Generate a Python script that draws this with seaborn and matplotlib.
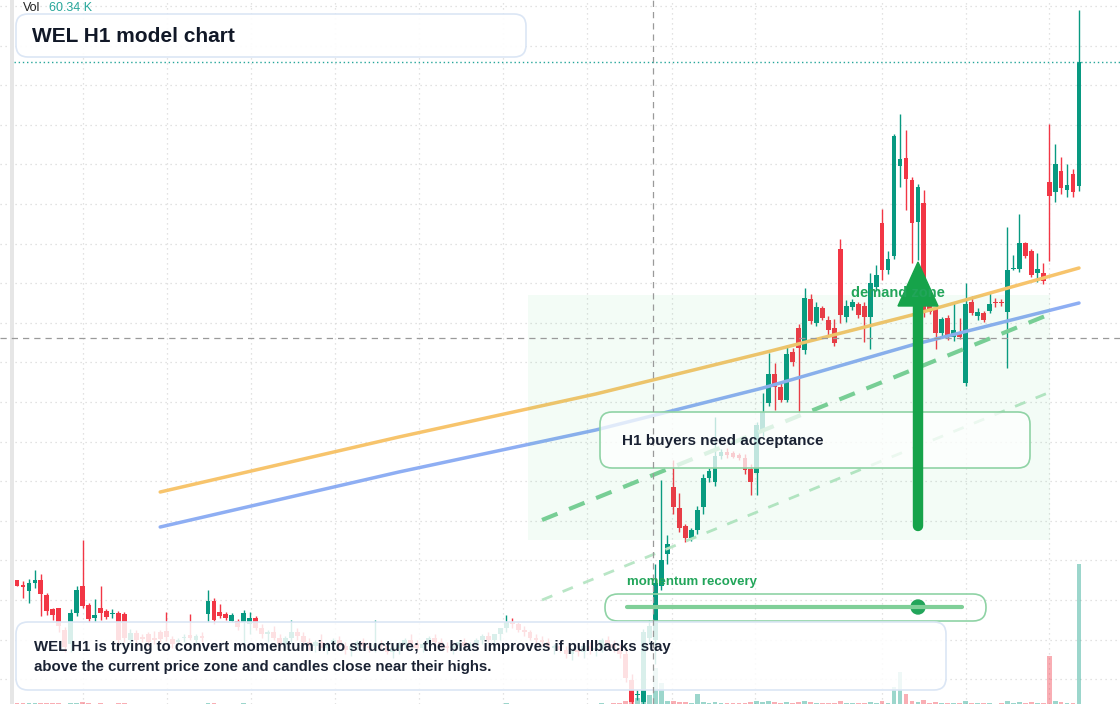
import matplotlib
matplotlib.use("Agg")
import matplotlib.pyplot as plt
import seaborn as sns
import numpy as np
import pandas as pd
from matplotlib.patches import FancyBboxPatch, Polygon, Rectangle, Circle

# ---- data (price units, volume in K) ----
opens = [124, 119, 113, 121, 124, 109, 95, 96, 74, 60,
         91, 118, 99, 86, 96, 93, 90, 91, 90, 64,
         71, 67, 70, 66, 72, 73, 65, 62, 66, 69,
         64, 68, 90, 103, 92, 90, 83, 83, 82, 80,
         86, 76, 70, 72, 66, 60, 66, 72, 68, 62,
         58, 62, 56, 60, 64, 58, 54, 58, 62, 58,
         56, 60, 58, 52, 56, 60, 64, 60, 56, 60,
         66, 62, 58, 56, 58, 62, 58, 60, 64, 68,
         64, 70, 76, 82, 80, 74, 72, 66, 64, 62,
         56, 58, 54, 50, 54, 52, 58, 54, 56, 64,
         60, 56, 50, 24, 9, 2, 66, 64, 118, 150,
         217, 196, 178, 166, 174, 197, 226, 222, 248, 252,
         251, 249, 246, 235, 231, 272, 301, 330, 317, 304,
         352, 376, 354, 405, 381, 396, 384, 376, 455, 387,
         397, 400, 398, 387, 417, 481, 434, 448, 538, 546,
         524, 482, 501, 398, 395, 371, 386, 367, 372, 321,
         402, 388, 391, 393, 402, 402, 392, 435, 435, 461,
         453, 431, 431, 522, 512, 533, 514, 530, 518]
highs = [124, 123, 125, 134, 130, 111, 96, 96, 77, 95,
         118, 164, 101, 105, 118, 95, 95, 93, 92, 75,
         74, 70, 72, 73, 74, 92, 68, 66, 70, 90,
         70, 72, 114, 106, 100, 92, 91, 85, 94, 92,
         88, 80, 74, 78, 70, 68, 84, 76, 72, 66,
         64, 70, 62, 66, 68, 62, 60, 64, 66, 62,
         84, 64, 60, 58, 62, 66, 70, 64, 62, 68,
         70, 66, 62, 60, 64, 66, 62, 66, 70, 72,
         68, 74, 89, 86, 82, 78, 74, 70, 68, 66,
         60, 64, 58, 56, 58, 60, 62, 60, 66, 68,
         64, 60, 54, 30, 14, 75, 84, 140, 224, 169,
         244, 211, 180, 176, 198, 230, 236, 287, 255, 256,
         253, 251, 250, 240, 282, 311, 351, 341, 321, 359,
         356, 380, 416, 410, 402, 398, 388, 385, 465, 404,
         405, 402, 402, 431, 439, 495, 453, 570, 590, 574,
         527, 520, 514, 400, 398, 387, 389, 401, 386, 421,
         408, 396, 393, 411, 406, 405, 477, 449, 490, 462,
         455, 451, 441, 580, 560, 547, 540, 535, 694]
lows = [118, 106, 101, 116, 88, 89, 84, 72, 52, 52,
        88, 96, 82, 82, 84, 85, 86, 60, 62, 60,
        60, 62, 58, 60, 62, 63, 56, 58, 62, 64,
        60, 62, 82, 80, 86, 84, 82, 74, 60, 70,
        74, 66, 62, 64, 58, 56, 62, 64, 58, 54,
        52, 58, 50, 54, 56, 50, 48, 54, 56, 52,
        52, 54, 50, 46, 50, 56, 58, 54, 52, 56,
        60, 56, 52, 50, 54, 56, 54, 58, 60, 62,
        58, 64, 72, 76, 72, 68, 64, 60, 58, 54,
        50, 52, 46, 44, 48, 46, 50, 48, 52, 56,
        52, 46, 22, 0, 4, 0, 60, 40, 114, 140,
        190, 172, 162, 163, 170, 190, 222, 218, 245, 246,
        246, 244, 230, 209, 209, 268, 298, 294, 302, 302,
        338, 292, 350, 380, 378, 384, 369, 358, 381, 382,
        394, 386, 362, 355, 413, 424, 430, 445, 517, 494,
        441, 444, 387, 390, 355, 368, 364, 363, 365, 318,
        389, 384, 382, 391, 397, 398, 336, 434, 432, 446,
        427, 422, 420, 443, 502, 510, 507, 507, 513]
closes = [118, 117, 121, 124, 110, 93, 89, 78, 57, 91,
          114, 98, 85, 89, 91, 87, 91, 64, 66, 71,
          64, 65, 62, 64, 65, 67, 60, 64, 66, 66,
          68, 66, 103, 84, 88, 86, 89, 77, 91, 86,
          76, 70, 72, 66, 60, 66, 72, 68, 62, 58,
          62, 56, 60, 64, 58, 54, 58, 62, 58, 56,
          60, 58, 52, 56, 60, 64, 60, 56, 60, 66,
          62, 58, 56, 58, 62, 58, 60, 64, 68, 64,
          70, 76, 82, 80, 74, 72, 66, 64, 62, 56,
          58, 54, 50, 54, 52, 58, 54, 56, 64, 60,
          56, 50, 26, 2, 10, 72, 78, 121, 144, 160,
          197, 176, 166, 174, 194, 226, 233, 248, 252, 249,
          247, 246, 234, 222, 279, 292, 330, 317, 304, 350,
          342, 356, 406, 383, 397, 386, 374, 361, 389, 398,
          402, 389, 387, 421, 429, 434, 445, 568, 545, 525,
          481, 517, 391, 392, 371, 385, 367, 374, 367, 400,
          391, 392, 384, 400, 401, 401, 434, 436, 461, 448,
          429, 435, 423, 508, 540, 516, 519, 512, 642]
volumes = [0.4, 0.3, 0.4, 0.3, 0.5, 0.4, 0.3, 0.4, 0.2, 0.5,
           0.6, 0.8, 0.3, 0.2, 0.4, 0.2, 0.2, 0.3, 0.3, 0.2,
           0.2, 0.1, 0.2, 0.2, 0.1, 0.2, 0.2, 0.1, 0.1, 0.2,
           0.2, 0.1, 0.6, 0.5, 0.2, 0.2, 0.2, 0.2, 0.3, 0.2,
           0.1, 0.1, 0.2, 0.1, 0.1, 0.1, 0.2, 0.1, 0.1, 0.1,
           0.1, 0.1, 0.1, 0.2, 0.1, 0.1, 0.1, 0.1, 0.2, 0.1,
           0.2, 0.1, 0.1, 0.1, 0.1, 0.2, 0.1, 0.1, 0.1, 0.1,
           0.1, 0.1, 0.1, 0.2, 0.1, 0.1, 0.1, 0.2, 0.1, 0.2,
           0.2, 0.2, 0.3, 0.2, 0.2, 0.1, 0.2, 0.1, 0.1, 0.1,
           0.1, 0.2, 0.1, 0.2, 0.1, 0.2, 0.2, 0.2, 0.3, 0.2,
           0.3, 0.4, 1.5, 6.0, 2.5, 24.0, 4.0, 15.5, 9.0, 1.5,
           1.2, 0.9, 0.7, 0.6, 4.3, 0.9, 0.6, 0.7, 0.4, 0.3,
           0.3, 0.3, 0.5, 0.8, 1.1, 0.8, 1.2, 0.7, 0.5, 0.9,
           0.5, 0.8, 1.3, 0.7, 0.5, 0.4, 0.4, 0.5, 1.5, 0.5,
           0.3, 0.4, 0.4, 0.8, 0.5, 1.3, 0.6, 7.2, 13.8, 4.4,
           1.2, 1.0, 1.7, 0.5, 0.7, 0.4, 0.5, 0.4, 0.3, 1.1,
           0.5, 0.3, 0.3, 0.4, 0.2, 0.3, 1.2, 0.3, 0.7, 0.5,
           0.7, 0.4, 0.4, 20.7, 1.1, 0.7, 0.5, 0.6, 60.34]

# moving averages and trend lines, read at a few bars
ma_idx = [24, 64, 97, 125, 150, 178]
ma_fast = [212, 267, 310, 351, 389, 436]
ma_slow = [177, 232, 274, 316, 359, 401]
trend_idx = [88, 174]
trend_main = [184, 392]
trend_lower = [104, 314]

UP = "#089981"
DOWN = "#f23645"
GREEN = "#16a34a"

df = pd.DataFrame({"o": opens, "h": highs, "l": lows, "c": closes, "v": volumes})
df["i"] = np.arange(len(df))
df["up"] = df["c"] >= df["o"]
df["color"] = np.where(df["up"], UP, DOWN)

sns.set_style("white")
plt.rcParams["font.family"] = ["Liberation Sans", "DejaVu Sans"]

fig = plt.figure(figsize=(11.2, 7.04), dpi=100)
ax = fig.add_axes([0, 0, 1, 1])
step = (1079 - 17) / (len(df) - 1)
ax.set_xlim(-17 / step, (1120 - 17) / step)
ax.set_ylim(0, 704)
ax.axis("off")

# grid
for gx in [83, 167, 251, 335, 419, 503, 587, 672, 755, 882, 966, 1049]:
    ax.axvline((gx - 17) / step, color="#d9d9d9", lw=0.9, ls=(0, (1, 3)), zorder=0)
for gy in np.arange(6, 700, 39.6):
    ax.axhline(704 - gy, color="#d9d9d9", lw=0.9, ls=(0, (1, 3)), zorder=0)

# volume on its own scale
vax = ax.twinx()
vax.set_ylim(0, 60.34 * 704 / 140)
vax.axis("off")
vax.bar(df["i"], df["v"], width=0.8, color=df["color"], alpha=0.4, lw=0, zorder=1)

# candles
ax.vlines(df["i"], df["l"], df["h"], colors=df["color"], lw=1, zorder=2)
bottoms = df[["o", "c"]].min(axis=1)
heights = (df["o"] - df["c"]).abs().clip(lower=1.5)
ax.bar(df["i"], heights, bottom=bottoms, width=0.8, color=df["color"], lw=0, zorder=2)

# averages and trend lines
sns.lineplot(x=ma_idx, y=ma_fast, ax=ax, color="#f7c46c", lw=2.5, zorder=3)
sns.lineplot(x=ma_idx, y=ma_slow, ax=ax, color="#8eaef3", lw=2.5, zorder=3)
ax.plot(trend_idx, trend_main, color="#7ccf98", lw=3, ls=(0, (4, 3)), zorder=3)
ax.plot(trend_idx, trend_lower, color="#b9e6c6", lw=2, ls=(0, (4, 4)), zorder=3)

# overlay in pixel coordinates
ov = fig.add_axes([0, 0, 1, 1])
ov.set_xlim(0, 1120)
ov.set_ylim(704, 0)
ov.axis("off")
ov.patch.set_alpha(0)

ov.add_patch(Rectangle((10, 0), 4, 704, color="#e6e6e6", lw=0))
ov.add_patch(Rectangle((528, 295), 522, 245, color="#22c55e", alpha=0.05, lw=0))
ov.axvline(653, color="#9a9a9a", lw=0.9, ls=(0, (5, 4)))
ov.axhline(338, color="#9a9a9a", lw=0.9, ls=(0, (5, 4)))
ov.plot([14, 1120], [62, 62], color="#26a69a", lw=1, ls=(0, (1, 2)))

ov.text(851, 293, "demand zone", color="#22a55a", fontsize=10.5, fontweight="bold", va="center")
ov.plot([918, 918], [526, 300], color=GREEN, lw=7.5, solid_capstyle="round")
ov.add_patch(Polygon([(898, 306), (938, 306), (918, 262)], closed=True, color=GREEN))


def box(x, y, w, h, edge, alpha=1.0, r=12):
    ov.add_patch(FancyBboxPatch((x, y), w, h, boxstyle=f"round,pad=0,rounding_size={r}",
                                facecolor=(1, 1, 1, alpha), edgecolor=edge, lw=1.2))


box(600, 412, 430, 56, "#8fd3a5", alpha=0.75)
ov.text(622, 441, "H1 buyers need acceptance", fontsize=11, fontweight="bold",
        color="#1a2233", va="center")

ov.text(627, 582, "momentum recovery", fontsize=9.5, fontweight="bold", color="#22a55a", va="center")
box(605, 594, 381, 27, "#8fd3a5", alpha=0.0, r=13)
ov.plot([627, 962], [607, 607], color="#7fcf98", lw=3, solid_capstyle="round")
ov.add_patch(Circle((918, 607), 7, color="#22a55a"))

box(16, 14, 510, 43, "#dbe6f5", alpha=0.92)
ov.text(32, 36, "WEL H1 model chart", fontsize=15, fontweight="bold", color="#111827", va="center")
ov.text(23, 8, "Vol", fontsize=9, color="#222222", va="center")
ov.text(49, 8, "60.34 K", fontsize=9, color="#26a69a", va="center")

box(16, 622, 930, 68, "#dbe6f5", alpha=0.85)
ov.text(34, 647, "WEL H1 is trying to convert momentum into structure; the bias improves if pullbacks stay",
        fontsize=10.8, fontweight="bold", color="#1a2233", va="center")
ov.text(34, 667, "above the current price zone and candles close near their highs.",
        fontsize=10.8, fontweight="bold", color="#1a2233", va="center")

fig.savefig("out.png", dpi=100)
plt.close(fig)
